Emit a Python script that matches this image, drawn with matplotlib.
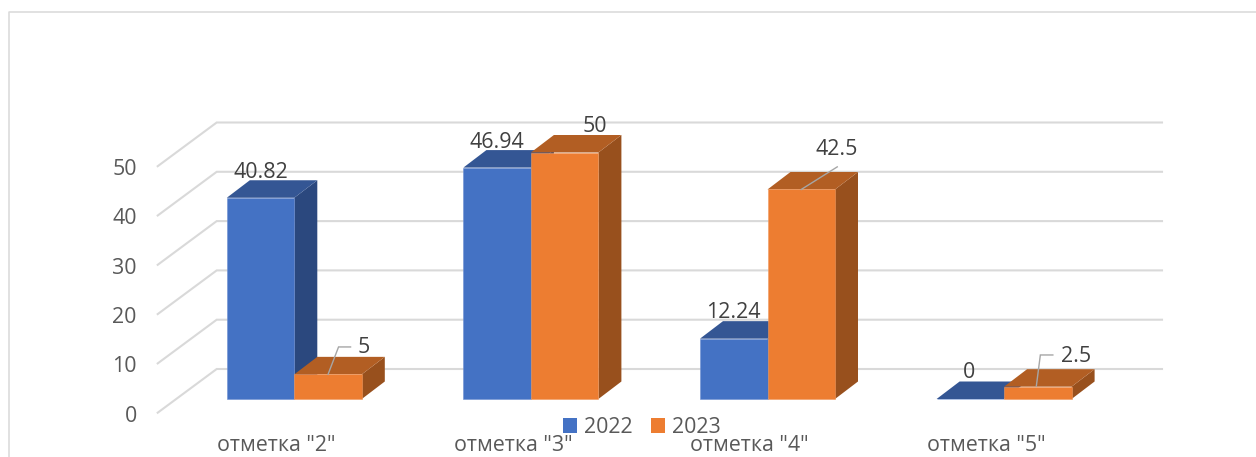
import matplotlib
matplotlib.use("Agg")
import matplotlib.pyplot as plt
from matplotlib.lines import Line2D
from matplotlib.patches import Patch, Polygon
from matplotlib.transforms import ScaledTranslation

# ---- data ----
categories = ['отметка "2"', 'отметка "3"', 'отметка "4"', 'отметка "5"']
series_2022 = [40.82, 46.94, 12.24, 0]
series_2023 = [5, 50, 42.5, 2.5]
value_ticks = [0, 10, 20, 30, 40, 50]
series_names = ['2022', '2023']

# ---- layout (pixels) ----
W, H = 1256, 457
PX_X, PX_Y = 236.6, 4.93      # pixels per category / per value unit
X0_PX, Y0_PX = 294.3, 399.0   # pixel position of category 0 and value 0
AL, AR, AT, AB = 150, 1170, 100, 420
BAR_W = 67.5 / PX_X
DEPTH_X, DEPTH_Y = 23 / PX_X, 17.5 / PX_Y
WALL_X, WALL_DY = (216.7 - X0_PX) / PX_X, 30 / PX_Y
DIAG_X, DIAG_DY = (157.7 - X0_PX) / PX_X, -13.7 / PX_Y
WALL_END = (1162 - X0_PX) / PX_X
GRID = '#D9D9D9'
TXT = '#595959'
LBL = '#404040'
LEAD = '#A6A6A6'
FS = 15.4

style_2022 = dict(front='#4472C4', top='#345694', side='#2B487E', edge='#6E90D2')
style_2023 = dict(front='#ED7D31', top='#B25E23', side='#98501D', edge='#F09A60')

# label offsets from the bar's front top centre, in pixels
label_off_2022 = [(0, 25), (0, 24.6), (0, 25.7), (-1, 26)]
label_off_2023 = [(36, 27), (30.5, 25.5), (35.7, 39.5), (38.5, 30)]
leaders_2023 = [[(0, 0), (10.5, 27.4), (22.5, 27.4)], None,
                [(0, 0), (36, 22.6)], [(-1.5, 0.7), (2.5, 31.7), (15, 31.7)]]

plt.rcParams['font.family'] = ['Open Sans', 'DejaVu Sans']
fig = plt.figure(figsize=(W / 100, H / 100), dpi=100, facecolor='white')
ax = fig.add_axes([AL / W, 1 - AB / H, (AR - AL) / W, (AB - AT) / H])
ax.set_xlim((AL - X0_PX) / PX_X, (AR - X0_PX) / PX_X)
ax.set_ylim((Y0_PX - AB) / PX_Y, (Y0_PX - AT) / PX_Y)
ax.patch.set_alpha(0)
for s in ax.spines.values():
    s.set_visible(False)

# outer chart frame
fig.add_artist(Line2D([9 / W, 9 / W, 1], [0, 1 - 12 / H, 1 - 12 / H], color=GRID, lw=1.1))

# back wall gridlines and floor/wall diagonals
for v in value_ticks:
    ax.plot([DIAG_X, WALL_X, WALL_END], [v + DIAG_DY, v + WALL_DY, v + WALL_DY],
            color=GRID, lw=1.5, zorder=1, solid_joinstyle='miter')


def bar3d(left, value, st, z):
    ax.bar(left, value, BAR_W, align='edge', color=st['front'], edgecolor=st['edge'],
           linewidth=0.4, zorder=z + 0.2)
    r = left + BAR_W
    ax.add_patch(Polygon([(r, 0), (r + DEPTH_X, DEPTH_Y), (r + DEPTH_X, value + DEPTH_Y), (r, value)],
                         closed=True, fc=st['side'], ec='none', zorder=z))
    ax.add_patch(Polygon([(left, value), (r, value), (r + DEPTH_X, value + DEPTH_Y),
                          (left + DEPTH_X, value + DEPTH_Y)],
                         closed=True, fc=st['top'], ec='none', zorder=z + 0.1))


for i in range(len(categories)):
    bar3d(i - BAR_W, series_2022[i], style_2022, 2 + i * 2)
    bar3d(i, series_2023[i], style_2023, 3 + i * 2)

# data labels
for i in range(len(categories)):
    cx1, cx2 = i - BAR_W / 2, i + BAR_W / 2
    for cx, v, off in ((cx1, series_2022[i], label_off_2022[i]), (cx2, series_2023[i], label_off_2023[i])):
        ax.annotate(f'{v:g}', xy=(cx, v), xytext=off, textcoords='offset pixels',
                    ha='center', va='center', fontsize=FS, color=LBL, zorder=20)
    if leaders_2023[i]:
        ax.plot([cx2 + p[0] / PX_X for p in leaders_2023[i]],
                [series_2023[i] + p[1] / PX_Y for p in leaders_2023[i]],
                color=LEAD, lw=1.0, zorder=19, solid_joinstyle='miter')

# axes ticks
ax.set_yticks(value_ticks)
ax.set_xticks(range(len(categories)))
ax.set_xticklabels(categories)
ax.tick_params(axis='both', length=0, labelsize=FS, labelcolor=TXT)
ax.tick_params(axis='y', pad=(AL - 136.7) * 0.72)
ax.tick_params(axis='x', pad=10.5)
dy = ScaledTranslation(0, -14.5 / 100, fig.dpi_scale_trans)
dx = ScaledTranslation(-18 / 100, 0, fig.dpi_scale_trans)
for t in ax.get_yticklabels():
    t.set_transform(t.get_transform() + dy)
for t in ax.get_xticklabels():
    t.set_transform(t.get_transform() + dx)

# legend
handles = [Patch(fc=style_2022['front'], ec='none'), Patch(fc=style_2023['front'], ec='none')]
fig.legend(handles, series_names, loc='center', bbox_to_anchor=(641.5 / W, 1 - 427.5 / H),
           ncol=2, frameon=False, fontsize=FS, labelcolor=TXT, handlelength=0.66, handleheight=0.66,
           handletextpad=0.33, columnspacing=0.85, borderpad=0, borderaxespad=0)

fig.savefig('out.png', dpi=100)
